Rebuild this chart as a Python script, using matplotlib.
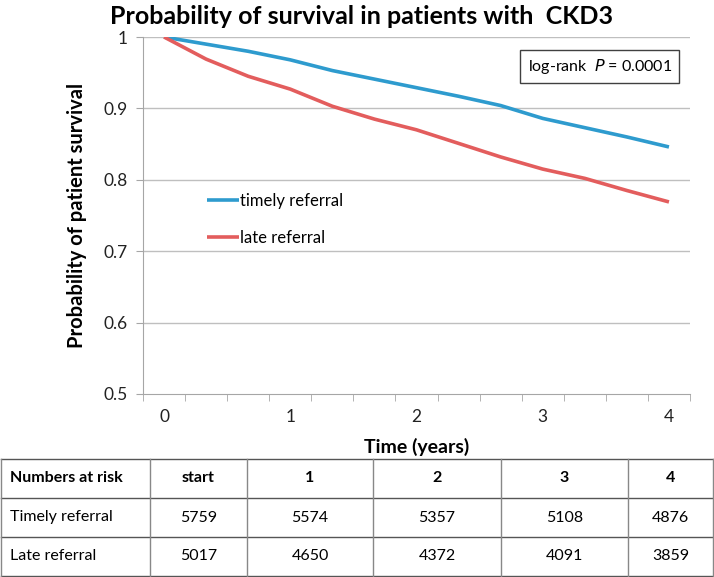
import matplotlib
matplotlib.use("Agg")
import matplotlib.pyplot as plt
import numpy as np

plt.rcParams['font.family'] = ['Lato', 'DejaVu Sans']

# ---- data ----
time_years = [0, 1/3, 2/3, 1, 4/3, 5/3, 2, 7/3, 8/3, 3, 10/3, 11/3, 4]
timely = [1.0, 0.990, 0.980, 0.968, 0.953, 0.941, 0.929, 0.917, 0.904, 0.886, 0.873, 0.860, 0.846]
late = [1.0, 0.969, 0.945, 0.927, 0.903, 0.885, 0.870, 0.851, 0.832, 0.815, 0.802, 0.785, 0.769]
series_names = ["timely referral", "late referral"]
x_tick_labels = ["0", "1", "2", "3", "4"]
y_ticks = [0.5, 0.6, 0.7, 0.8, 0.9, 1.0]
y_tick_labels = ["0.5", "0.6", "0.7", "0.8", "0.9", "1"]

table_header = ["Numbers at risk", "start", "1", "2", "3", "4"]
table_row_names = ["Timely referral", "Late referral"]
risk_timely = [5759, 5574, 5357, 5108, 4876]
risk_late = [5017, 4650, 4372, 4091, 3859]

blue = '#2E9BCE'
red = '#E35D5D'

W, H = 714, 577
fig = plt.figure(figsize=(W/100, H/100), dpi=100)

def fx(px):
    return px / W

def fy(py):
    return 1 - py / H

ax = fig.add_axes([fx(143), fy(394), fx(690) - fx(143), fy(37) - fy(394)])
ax.plot(time_years, timely, color=blue, lw=2.6, solid_capstyle='butt', label=series_names[0], zorder=3)
ax.plot(time_years, late, color=red, lw=2.6, solid_capstyle='butt', label=series_names[1], zorder=3)
ax.set_xlim(-1/6, 4 + 1/6)
ax.set_ylim(0.5, 1.0)
ax.set_yticks(y_ticks)
ax.set_yticklabels(y_tick_labels, fontsize=12.5)
ax.set_xticks([0, 1, 2, 3, 4])
ax.set_xticklabels(x_tick_labels, fontsize=12.5)
ax.tick_params(axis='x', length=0, pad=11, colors='#222222')
ax.tick_params(axis='y', length=5, direction='out', color='#A6A6A6', pad=6, labelcolor='#222222')
minor = [-1/6 + k/3 for k in range(14)]
ax.set_xticks(minor, minor=True)
ax.tick_params(axis='x', which='minor', length=5, color='#A6A6A6', direction='out')
for y in y_ticks[1:]:
    ax.axhline(y, color='#BFBFBF', lw=1, zorder=1)
for s in ['top', 'right']:
    ax.spines[s].set_visible(False)
ax.spines['left'].set_color('#A6A6A6')
ax.spines['bottom'].set_color('#A6A6A6')
ax.spines['left'].set_zorder(2)

ax.set_ylabel("Probability of patient survival", fontsize=14.5, fontweight='bold', labelpad=12)
ax.set_xlabel("Time (years)", fontsize=14, fontweight='bold', labelpad=9)

leg = ax.legend(loc='upper left', bbox_to_anchor=(0.09, 0.605), frameon=False, fontsize=12,
                handlelength=1.9, handletextpad=0.05, labelspacing=1.25)

ax.text(0.835, 0.918, r"log-rank  $\it{P}$ = 0.0001", transform=ax.transAxes, fontsize=11.5,
        ha='center', va='center',
        bbox=dict(boxstyle='square,pad=0.45', fc='white', ec='#404040', lw=1))

fig.text(fx(361), fy(17), "Probability of survival in patients with  CKD3", fontsize=18,
         fontweight='bold', ha='center', va='center')

# ---- table ----
tax = fig.add_axes([0, 0, 1, 1])
tax.set_xlim(0, W)
tax.set_ylim(H, 0)
tax.axis('off')
col_edges = [1, 150, 247, 373, 501, 628, 713]
row_edges = [459, 498, 537, 576]
for y in row_edges:
    tax.plot([col_edges[0], col_edges[-1]], [y, y], color='#555555', lw=1)
for x in col_edges:
    tax.plot([x, x], [row_edges[0], row_edges[-1]], color='#888888', lw=1)

rows = [table_header,
        [table_row_names[0]] + [str(v) for v in risk_timely],
        [table_row_names[1]] + [str(v) for v in risk_late]]
for r, row in enumerate(rows):
    yc = (row_edges[r] + row_edges[r + 1]) / 2
    for c, txt in enumerate(row):
        weight = 'bold' if r == 0 else 'normal'
        if c == 0:
            tax.text(col_edges[0] + 9, yc, txt, ha='left', va='center', fontsize=11.5, fontweight=weight)
        else:
            xc = (col_edges[c] + col_edges[c + 1]) / 2
            tax.text(xc, yc, txt, ha='center', va='center', fontsize=11.5, fontweight=weight)

fig.savefig("out.png", dpi=100)
